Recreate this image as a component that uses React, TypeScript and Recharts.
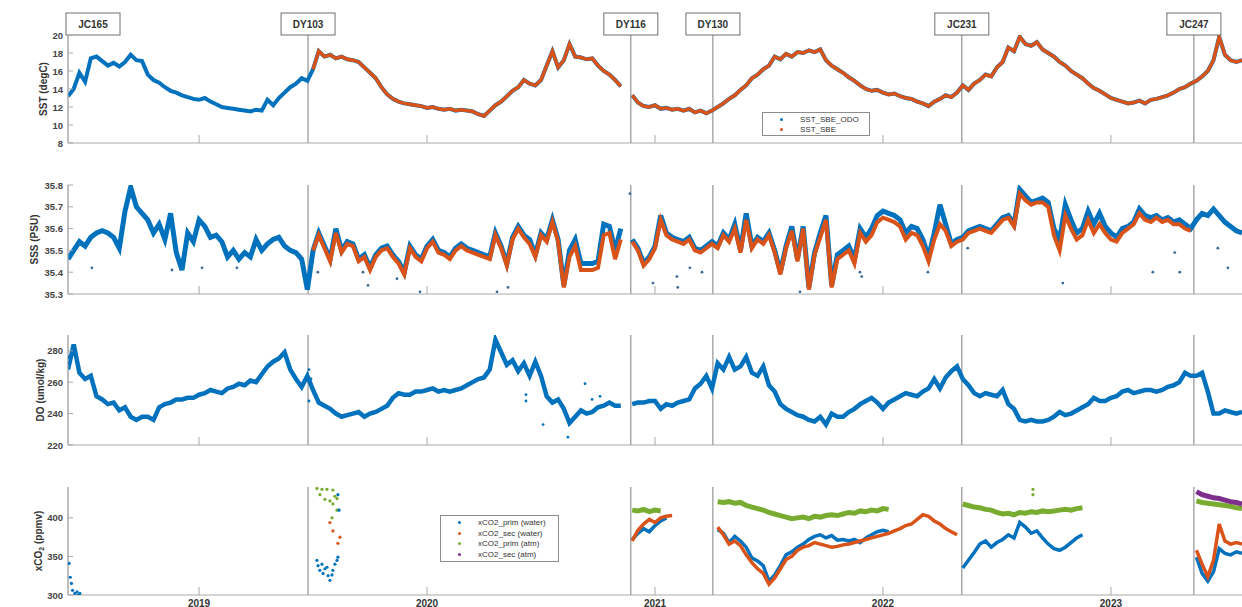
import React from 'react';
import { ComposedChart, Line, Scatter, XAxis, YAxis, ReferenceLine } from 'recharts';

const FONT = '"Liberation Sans", Arial, Helvetica, sans-serif';
const W = 1242;

// time axis: decimal years, samples every STEP years from T0
const T0 = 2018.425;
const T1 = 2023.575;
const STEP = 0.025;

const BLUE = '#0072BD';
const ORANGE = '#D95319';
const GREEN = '#77AC30';
const PURPLE = '#7E2F8E';
const AXIS = '#a9a9a9';
const CRUISE_LINE = '#7d7d7d';

const years = [2019, 2020, 2021, 2022, 2023];

const cruises = [
  { name: 'JC165', t: 2018.425 },
  { name: 'DY103', t: 2019.478 },
  { name: 'DY116', t: 2020.894 },
  { name: 'DY130', t: 2021.254 },
  { name: 'JC231', t: 2022.346 },
  { name: 'JC247', t: 2023.364 },
];

const sstTicks = [8, 10, 12, 14, 16, 18, 20];
const sssTicks = [35.3, 35.4, 35.5, 35.6, 35.7, 35.8];
const doTicks = [220, 240, 260, 280];
const co2Ticks = [300, 350, 400];

// SST (degC), SBE ODO sensor
const sstOdo = [
  13.2, 14.0, 15.8, 14.8, 17.4, 17.6, 17.1, 16.6, 16.9, 16.5,
  17.0, 17.8, 17.2, 17.1, 15.6, 15.0, 14.7, 14.2, 13.8, 13.6,
  13.3, 13.1, 12.9, 12.8, 13.0, 12.6, 12.3, 12.0, 11.9, 11.8,
  11.7, 11.6, 11.5, 11.7, 11.6, 12.8, 12.2, 13.0, 13.6, 14.2,
  14.6, 15.2, 14.9, 16.2, 18.2, 17.6, 17.8, 17.4, 17.6, 17.3,
  17.2, 17.0, 16.4, 15.8, 15.2, 14.2, 13.4, 12.9, 12.6, 12.4,
  12.3, 12.2, 12.1, 11.9, 12.0, 11.8, 11.7, 11.8, 11.6, 11.7,
  11.6, 11.5, 11.2, 11.0, 11.6, 12.2, 12.6, 13.2, 13.8, 14.2,
  15.0, 14.6, 14.4, 15.0, 16.6, 18.2, 16.4, 17.2, 19.0, 17.6,
  17.5, 17.3, 17.4, 16.6, 16.0, 15.6, 15.0, 14.3, null, 13.3,
  12.5, 12.1, 12.0, 12.2, 11.8, 11.9, 11.7, 11.8, 11.6, 11.8,
  11.4, 11.6, 11.3, 11.6, 12.0, 12.4, 12.9, 13.3, 13.9, 14.4,
  15.2, 15.6, 16.2, 16.6, 17.6, 17.3, 17.9, 17.6, 18.1, 18.0,
  18.3, 18.1, 18.4, 17.2, 16.6, 16.2, 15.8, 15.3, 14.9, 14.4,
  14.0, 13.8, 13.9, 13.6, 13.4, 13.5, 13.2, 13.0, 12.9, 12.6,
  12.4, 12.1, 12.6, 12.9, 13.3, 13.1, 13.6, 14.4, 13.9, 14.6,
  15.0, 15.6, 15.4, 16.4, 17.0, 18.6, 18.2, 19.8, 19.0, 18.8,
  19.2, 18.4, 18.0, 17.6, 17.0, 16.6, 16.0, 15.6, 15.2, 14.6,
  14.1, 13.8, 13.4, 13.0, 12.8, 12.6, 12.4, 12.5, 12.7, 12.4,
  12.8, 12.9, 13.1, 13.3, 13.6, 14.0, 14.2, 14.6, 14.9, 15.4,
  16.0, 17.2, 19.8, 17.8, 17.2, 17.0, 17.2,
];

// SST (degC), SBE sensor (from DY103 onwards)
const sstSbe = [
  null, null, null, null, null, null, null, null, null, null,
  null, null, null, null, null, null, null, null, null, null,
  null, null, null, null, null, null, null, null, null, null,
  null, null, null, null, null, null, null, null, null, null,
  null, null, null, 16.2, 18.2, 17.6, 17.8, 17.4, 17.6, 17.3,
  17.2, 17.0, 16.4, 15.8, 15.2, 14.2, 13.4, 12.9, 12.6, 12.4,
  12.3, 12.2, 12.1, 11.9, 12.0, 11.8, 11.7, 11.8, 11.6, 11.7,
  11.6, 11.5, 11.2, 11.0, 11.6, 12.2, 12.6, 13.2, 13.8, 14.2,
  15.0, 14.6, 14.4, 15.0, 16.6, 18.2, 16.4, 17.2, 19.0, 17.6,
  17.5, 17.3, 17.4, 16.6, 16.0, 15.6, 15.0, 14.3, null, 13.3,
  12.5, 12.1, 12.0, 12.2, 11.8, 11.9, 11.7, 11.8, 11.6, 11.8,
  11.4, 11.6, 11.3, 11.6, 12.0, 12.4, 12.9, 13.3, 13.9, 14.4,
  15.2, 15.6, 16.2, 16.6, 17.6, 17.3, 17.9, 17.6, 18.1, 18.0,
  18.3, 18.1, 18.4, 17.2, 16.6, 16.2, 15.8, 15.3, 14.9, 14.4,
  14.0, 13.8, 13.9, 13.6, 13.4, 13.5, 13.2, 13.0, 12.9, 12.6,
  12.4, 12.1, 12.6, 12.9, 13.3, 13.1, 13.6, 14.4, 13.9, 14.6,
  15.0, 15.6, 15.4, 16.4, 17.0, 18.6, 18.2, 19.8, 19.0, 18.8,
  19.2, 18.4, 18.0, 17.6, 17.0, 16.6, 16.0, 15.6, 15.2, 14.6,
  14.1, 13.8, 13.4, 13.0, 12.8, 12.6, 12.4, 12.5, 12.7, 12.4,
  12.8, 12.9, 13.1, 13.3, 13.6, 14.0, 14.2, 14.6, 14.9, 15.4,
  16.0, 17.2, 19.8, 17.8, 17.2, 17.0, 17.2,
];

// SSS (PSU), ODO
const sssOdo = [
  35.46, 35.50, 35.54, 35.52, 35.56, 35.58, 35.59, 35.58, 35.56, 35.51,
  35.68, 35.79, 35.70, 35.67, 35.64, 35.58, 35.62, 35.55, 35.67, 35.49,
  35.41, 35.58, 35.54, 35.64, 35.61, 35.56, 35.57, 35.54, 35.47, 35.50,
  35.46, 35.49, 35.47, 35.55, 35.50, 35.53, 35.55, 35.56, 35.52, 35.50,
  35.49, 35.46, 35.32, 35.50, 35.58, 35.52, 35.46, 35.60, 35.50, 35.54,
  35.53, 35.46, 35.48, 35.42, 35.48, 35.51, 35.52, 35.48, 35.45, 35.40,
  35.52, 35.48, 35.46, 35.52, 35.55, 35.50, 35.49, 35.47, 35.51, 35.53,
  35.51, 35.50, 35.49, 35.48, 35.47, 35.58, 35.52, 35.44, 35.56, 35.61,
  35.57, 35.55, 35.48, 35.58, 35.55, 35.64, 35.55, 35.34, 35.50, 35.55,
  35.44, 35.44, 35.44, 35.45, 35.62, 35.61, 35.50, 35.60, null, 35.55,
  35.51, 35.44, 35.47, 35.52, 35.66, 35.58, 35.56, 35.55, 35.54, 35.56,
  35.51, 35.50, 35.52, 35.54, 35.52, 35.58, 35.55, 35.62, 35.50, 35.67,
  35.52, 35.56, 35.54, 35.58, 35.50, 35.40, 35.52, 35.61, 35.46, 35.61,
  35.33, 35.49, 35.58, 35.66, 35.34, 35.48, 35.50, 35.52, 35.46, 35.60,
  35.56, 35.60, 35.66, 35.68, 35.67, 35.66, 35.64, 35.58, 35.61, 35.60,
  35.55, 35.47, 35.58, 35.71, 35.62, 35.53, 35.55, 35.56, 35.59, 35.60,
  35.61, 35.60, 35.59, 35.62, 35.65, 35.66, 35.62, 35.78, 35.75, 35.72,
  35.73, 35.74, 35.72, 35.60, 35.55, 35.71, 35.64, 35.58, 35.60, 35.68,
  35.62, 35.67, 35.61, 35.58, 35.56, 35.60, 35.61, 35.63, 35.69, 35.66,
  35.65, 35.66, 35.64, 35.65, 35.63, 35.64, 35.62, 35.60, 35.64, 35.67,
  35.66, 35.69, 35.66, 35.63, 35.61, 35.59, 35.58,
];

// SSS (PSU), SBE (DY103 to JC247)
const sssSbe = [
  null, null, null, null, null, null, null, null, null, null,
  null, null, null, null, null, null, null, null, null, null,
  null, null, null, null, null, null, null, null, null, null,
  null, null, null, null, null, null, null, null, null, null,
  null, null, null, 35.50, 35.57, 35.51, 35.45, 35.58, 35.49, 35.53,
  35.52, 35.45, 35.47, 35.41, 35.47, 35.50, 35.51, 35.47, 35.44, 35.39,
  35.51, 35.47, 35.45, 35.51, 35.54, 35.49, 35.48, 35.46, 35.50, 35.52,
  35.50, 35.49, 35.48, 35.47, 35.46, 35.57, 35.51, 35.43, 35.55, 35.60,
  35.56, 35.53, 35.47, 35.57, 35.54, 35.63, 35.54, 35.33, 35.47, 35.52,
  35.41, 35.41, 35.41, 35.42, 35.57, 35.58, 35.46, 35.55, null, 35.54,
  35.50, 35.43, 35.46, 35.51, 35.64, 35.57, 35.55, 35.54, 35.53, 35.55,
  35.50, 35.49, 35.51, 35.53, 35.51, 35.57, 35.54, 35.60, 35.49, 35.64,
  35.51, 35.55, 35.53, 35.57, 35.49, 35.39, 35.51, 35.59, 35.45, 35.60,
  35.32, 35.48, 35.56, 35.64, 35.33, 35.46, 35.48, 35.50, 35.44, 35.58,
  35.54, 35.57, 35.63, 35.65, 35.64, 35.63, 35.61, 35.55, 35.58, 35.57,
  35.52, 35.45, 35.55, 35.62, 35.59, 35.52, 35.54, 35.55, 35.58, 35.59,
  35.60, 35.59, 35.58, 35.61, 35.64, 35.65, 35.61, 35.76, 35.73, 35.71,
  35.72, 35.72, 35.70, 35.57, 35.50, 35.66, 35.60, 35.55, 35.57, 35.64,
  35.58, 35.62, 35.58, 35.55, 35.54, 35.58, 35.60, 35.62, 35.67, 35.64,
  35.63, 35.65, 35.63, 35.64, 35.62, 35.62, 35.60, 35.59, null, null,
  null, null, null, null, null, null, null,
];

// isolated salinity spikes [decimal year, PSU]
const sssSpikes = [
  [2018.530, 35.42], [2018.881, 35.41], [2019.013, 35.42], [2019.166, 35.42],
  [2019.521, 35.40], [2019.719, 35.40], [2019.741, 35.34], [2019.868, 35.37],
  [2019.969, 35.31], [2020.307, 35.31], [2020.355, 35.33], [2020.890, 35.76],
  [2020.991, 35.35], [2021.096, 35.38], [2021.100, 35.33], [2021.153, 35.42],
  [2021.206, 35.40], [2021.636, 35.31], [2021.899, 35.40], [2021.907, 35.38],
  [2022.197, 35.40], [2022.372, 35.51], [2022.789, 35.35], [2023.184, 35.40],
  [2023.280, 35.49], [2023.302, 35.40], [2023.469, 35.51], [2023.513, 35.42],
];

// dissolved oxygen (umol/kg)
const doOdo = [
  268, 284, 266, 262, 264, 251, 249, 246, 247, 242,
  244, 238, 236, 238, 238, 236, 244, 246, 247, 249,
  249, 250, 250, 252, 253, 255, 254, 253, 256, 257,
  259, 258, 261, 260, 265, 270, 273, 275, 279, 268,
  262, 257, 264, 255, 247, 245, 243, 240, 238, 239,
  240, 241, 238, 240, 241, 243, 245, 250, 253, 252,
  252, 254, 254, 255, 256, 254, 255, 254, 255, 256,
  258, 260, 262, 263, 268, 287, 279, 271, 274, 267,
  272, 264, 273, 264, 251, 247, 249, 243, 234, 238,
  242, 240, 241, 244, 245, 247, 245, 245, null, 246,
  247, 247, 248, 248, 243, 246, 245, 247, 248, 249,
  256, 259, 264, 256, 272, 268, 276, 268, 270, 276,
  266, 264, 270, 258, 254, 246, 243, 241, 239, 238,
  236, 235, 238, 233, 240, 238, 238, 241, 243, 246,
  248, 250, 247, 243, 247, 249, 251, 253, 252, 251,
  254, 256, 262, 256, 263, 267, 270, 262, 258, 253,
  251, 253, 252, 251, 255, 246, 243, 236, 235, 236,
  235, 235, 236, 238, 241, 239, 240, 242, 244, 246,
  250, 248, 248, 250, 251, 254, 255, 253, 254, 255,
  255, 254, 255, 257, 258, 260, 266, 264, 264, 266,
  254, 240, 240, 242, 241, 240, 241,
];

const doSpikes = [
  [2018.428, 276], [2018.428, 272], [2019.482, 268], [2019.491, 262], [2019.482, 248],
  [2020.434, 252], [2020.434, 248], [2020.509, 233], [2020.618, 225], [2020.693, 259],
  [2020.724, 249], [2020.759, 251],
];

// xCO2 (ppmv) sampled on the same time grid, one block per deployment
const co2PrimWater = [
  { from: 2020.9, values: [372, 380, 386, 382, 390, 396, 400] },
  {
    from: 2021.275,
    values: [385, 380, 368, 376, 370, 362, 348, 344, 338, 318, 326, 338, 352, 356, 362, 366,
      372, 376, 378, 374, 377, 371, 372, 370, 372, 368, 374, 378, 382, 384, 382],
  },
  {
    from: 2022.35,
    values: [335, 345, 355, 366, 370, 362, 368, 372, 378, 374, 394, 388, 380, 383, 374, 366,
      360, 358, 362, 368, 374, 378],
  },
  { from: 2023.375, values: [349, 328, 318, 330, 360, 354, 352, 356, 354] },
];

const co2SecWater = [
  { from: 2020.9, values: [370, 384, 392, 398, 394, 400, 402, 403] },
  {
    from: 2021.275,
    values: [388, 378, 366, 370, 364, 352, 342, 334, 328, 314, 322, 334, 346, 350, 358, 362,
      364, 368, 366, 364, 362, 363, 365, 366, 368, 370, 372, 374, 376, 378, 380, 383, 386,
      390, 392, 398, 404, 402, 396, 392, 386, 382, 378],
  },
  { from: 2023.375, values: [358, 340, 324, 345, 392, 370, 366, 368, 366] },
];

const co2PrimAtm = [
  { from: 2020.9, values: [410, 409, 411, 408, 410, 409] },
  {
    from: 2021.275,
    values: [421, 420, 421, 419, 420, 416, 414, 412, 410, 407, 405, 403, 401, 399, 400, 401,
      399, 402, 401, 403, 404, 403, 405, 407, 406, 409, 408, 410, 409, 412, 411],
  },
  {
    from: 2022.35,
    values: [418, 416, 414, 413, 411, 410, 407, 405, 406, 404, 407, 406, 408, 407, 409, 408,
      409, 410, 411, 410, 412, 413],
  },
  { from: 2023.375, values: [422, 420, 419, 418, 417, 416, 415, 413, 412] },
];

const co2SecAtm = [
  { from: 2023.375, values: [434, 430, 428, 426, 425, 423, 421, 420, 418] },
];

// sparse xCO2 samples [decimal year, ppmv]
const co2PrimWaterDots = [
  [2018.430, 341], [2018.435, 323], [2018.440, 315], [2018.445, 306], [2018.455, 302],
  [2018.465, 304], [2018.470, 300], [2018.477, 302],
  [2019.517, 345], [2019.522, 338], [2019.530, 332], [2019.539, 340], [2019.544, 328],
  [2019.552, 334], [2019.561, 336], [2019.566, 325], [2019.574, 319], [2019.583, 326],
  [2019.587, 332], [2019.596, 340], [2019.605, 345], [2019.609, 349], [2019.609, 430],
  [2019.614, 410],
];
const co2SecWaterDots = [
  [2019.574, 394], [2019.587, 383], [2019.609, 367], [2019.618, 375],
];
const co2PrimAtmDots = [
  [2019.517, 438], [2019.530, 430], [2019.539, 437], [2019.552, 424], [2019.561, 437],
  [2019.574, 422], [2019.587, 436], [2019.587, 418], [2019.596, 428], [2019.605, 425],
  [2019.605, 410], [2019.583, 400], [2022.658, 437], [2022.658, 430],
];

const N = sstOdo.length;

function onGrid(blocks: { from: number; values: number[] }[]) {
  const out: (number | null)[] = new Array(N).fill(null);
  blocks.forEach((b) => {
    const start = Math.round((b.from - T0) / STEP);
    b.values.forEach((v, k) => {
      out[start + k] = v;
    });
  });
  return out;
}

const primWater = onGrid(co2PrimWater);
const secWater = onGrid(co2SecWater);
const primAtm = onGrid(co2PrimAtm);
const secAtm = onGrid(co2SecAtm);

const rows = sstOdo.map((v, i) => ({
  t: T0 + i * STEP,
  sstOdo: v,
  sstSbe: sstSbe[i],
  sssOdo: sssOdo[i],
  sssSbe: sssSbe[i],
  doOdo: doOdo[i],
  primWater: primWater[i],
  secWater: secWater[i],
  primAtm: primAtm[i],
  secAtm: secAtm[i],
}));

const toPoints = (list: number[][]) => list.map(([t, v]) => ({ t, v }));

const dot = (color: string, r = 1.4) => (p: any) => <circle cx={p.cx} cy={p.cy} r={r} fill={color} />;

function YearTick(props: any) {
  const { x, y, payload, showLabel } = props;
  return (
    <g>
      <line x1={x} y1={y} x2={x} y2={y - 8} stroke={AXIS} />
      {showLabel ? (
        <text x={x} y={y + 8} textAnchor="middle" dominantBaseline="central" fontFamily={FONT}
          fontSize={10} fontWeight="bold" fill="#333">
          {payload.value}
        </text>
      ) : null}
    </g>
  );
}

function ValueTick(props: any) {
  const { x, y, payload, digits } = props;
  return (
    <g>
      <line x1={x} y1={y} x2={x + 5} y2={y} stroke={AXIS} />
      <text x={x - 5} y={y} textAnchor="end" dominantBaseline="central" fontFamily={FONT}
        fontSize={9.5} fontWeight="bold" fill="#444">
        {Number(payload.value).toFixed(digits)}
      </text>
    </g>
  );
}

function AxisTitle(props: any) {
  const { viewBox, children, cx } = props;
  const cy = viewBox.y + viewBox.height / 2;
  return (
    <text transform={`translate(${cx}, ${cy}) rotate(-90)`} textAnchor="middle" dominantBaseline="central"
      fontFamily={FONT} fontSize={10} fontWeight="bold" fill="#333">
      {children}
    </text>
  );
}

function CruiseTag(props: any) {
  const { viewBox, name } = props;
  const left = Math.max(viewBox.x - 27, 66);
  const top = viewBox.y;
  return (
    <g>
      <rect x={left} y={top - 22} width={54} height={22} fill="#fff" stroke="#6f6f6f" />
      <text x={left + 27} y={top - 11} textAnchor="middle" dominantBaseline="central" fontFamily={FONT}
        fontSize={10} fontWeight="bold" fill="#333">
        {name}
      </text>
    </g>
  );
}

function LegendBox(props: { left: number; top: number; width: number; rowHeight: number; items: { label: string; color: string }[] }) {
  const { left, top, width, rowHeight, items } = props;
  return (
    <div
      style={{
        position: 'absolute', left, top, width, boxSizing: 'border-box', border: '1px solid #8c8c8c',
        background: '#fff', padding: '1px 0', fontFamily: FONT, fontSize: 8, color: '#333',
      }}
    >
      {items.map((it) => (
        <div key={it.label} style={{ display: 'flex', alignItems: 'center', height: rowHeight }}>
          <span style={{ width: 3, height: 3, borderRadius: 2, background: it.color, marginLeft: 17, marginRight: 17 }} />
          <span>{it.label}</span>
        </div>
      ))}
    </div>
  );
}

type PanelProps = {
  top: number;
  height: number;
  margin: { top: number; bottom: number };
  domain: [number, number];
  ticks: number[];
  digits: number;
  title: React.ReactNode;
  titleX: number;
  tags?: boolean;
  yearLabels?: boolean;
  children: React.ReactNode;
};

function Panel({ top, height, margin, domain, ticks, digits, title, titleX, tags, yearLabels, children }: PanelProps) {
  return (
    <div style={{ position: 'absolute', left: 0, top }}>
      <ComposedChart width={W} height={height} data={rows}
        margin={{ top: margin.top, bottom: margin.bottom - 1, left: 0, right: 0 }}>
        <XAxis dataKey="t" type="number" domain={[T0, T1]} allowDataOverflow ticks={years} interval={0}
          height={1} tickSize={0} tickMargin={0} axisLine={{ stroke: AXIS }}
          tick={(p: any) => <YearTick {...p} showLabel={!!yearLabels} />} />
        <YAxis type="number" domain={domain} allowDataOverflow ticks={ticks} interval={0} width={68}
          tickSize={0} tickMargin={0} axisLine={{ stroke: AXIS }}
          tick={(p: any) => <ValueTick {...p} digits={digits} />}
          label={(p: any) => <AxisTitle {...p} cx={titleX}>{title}</AxisTitle>} />
        {cruises.map((c) => (
          <ReferenceLine key={c.name} x={c.t} stroke={c.t === T0 ? AXIS : CRUISE_LINE}
            label={tags ? (p: any) => <CruiseTag {...p} name={c.name} /> : undefined} />
        ))}
        {children}
      </ComposedChart>
    </div>
  );
}

export default function App() {
  return (
    <div style={{ position: 'absolute', left: 0, top: 0, width: W, height: 607, background: '#fff', overflow: 'hidden' }}>
      <Panel top={0} height={150} margin={{ top: 35, bottom: 7 }} domain={[8, 20]} ticks={sstTicks} digits={0}
        title="SST (degC)" titleX={43} tags>
        <Line dataKey="sstOdo" stroke={BLUE} strokeWidth={4} dot={false} isAnimationActive={false} />
        <Line dataKey="sstSbe" stroke={ORANGE} strokeWidth={3.4} dot={false} isAnimationActive={false} />
      </Panel>

      <Panel top={160} height={140} margin={{ top: 25, bottom: 6 }} domain={[35.3, 35.8]} ticks={sssTicks} digits={1}
        title="SSS (PSU)" titleX={34}>
        <Line dataKey="sssOdo" stroke={BLUE} strokeWidth={5} dot={false} isAnimationActive={false} />
        <Line dataKey="sssSbe" stroke={ORANGE} strokeWidth={4} dot={false} isAnimationActive={false} />
        <Scatter data={toPoints(sssSpikes)} dataKey="v" shape={dot('#3b6c98')} isAnimationActive={false} />
      </Panel>

      <Panel top={310} height={142} margin={{ top: 25, bottom: 7 }} domain={[220, 290]} ticks={doTicks} digits={0}
        title="DO (umol/kg)" titleX={40}>
        <Line dataKey="doOdo" stroke={BLUE} strokeWidth={4.5} dot={false} isAnimationActive={false} />
        <Scatter data={toPoints(doSpikes)} dataKey="v" shape={dot(BLUE)} isAnimationActive={false} />
      </Panel>

      <Panel top={460} height={147} margin={{ top: 27, bottom: 12 }} domain={[300, 440]} ticks={co2Ticks} digits={0}
        yearLabels titleX={38}
        title={
          <>
            xCO<tspan fontSize={7} dy={3}>2</tspan>
            <tspan dy={-3}> (ppmv)</tspan>
          </>
        }>
        <Line dataKey="primAtm" stroke={GREEN} strokeWidth={5} dot={false} isAnimationActive={false} />
        <Line dataKey="secAtm" stroke={PURPLE} strokeWidth={5} dot={false} isAnimationActive={false} />
        <Line dataKey="primWater" stroke={BLUE} strokeWidth={3.5} dot={false} isAnimationActive={false} />
        <Line dataKey="secWater" stroke={ORANGE} strokeWidth={3.5} dot={false} isAnimationActive={false} />
        <Scatter data={toPoints(co2PrimAtmDots)} dataKey="v" shape={dot(GREEN, 1.6)} isAnimationActive={false} />
        <Scatter data={toPoints(co2PrimWaterDots)} dataKey="v" shape={dot(BLUE, 1.6)} isAnimationActive={false} />
        <Scatter data={toPoints(co2SecWaterDots)} dataKey="v" shape={dot(ORANGE, 1.6)} isAnimationActive={false} />
      </Panel>

      <LegendBox left={762} top={112} width={108} rowHeight={10}
        items={[
          { label: 'SST_SBE_ODO', color: BLUE },
          { label: 'SST_SBE', color: ORANGE },
        ]} />
      <LegendBox left={440} top={515} width={119} rowHeight={10.7}
        items={[
          { label: 'xCO2_prim (water)', color: BLUE },
          { label: 'xCO2_sec (water)', color: ORANGE },
          { label: 'xCO2_prim (atm)', color: GREEN },
          { label: 'xCO2_sec (atm)', color: PURPLE },
        ]} />
    </div>
  );
}
